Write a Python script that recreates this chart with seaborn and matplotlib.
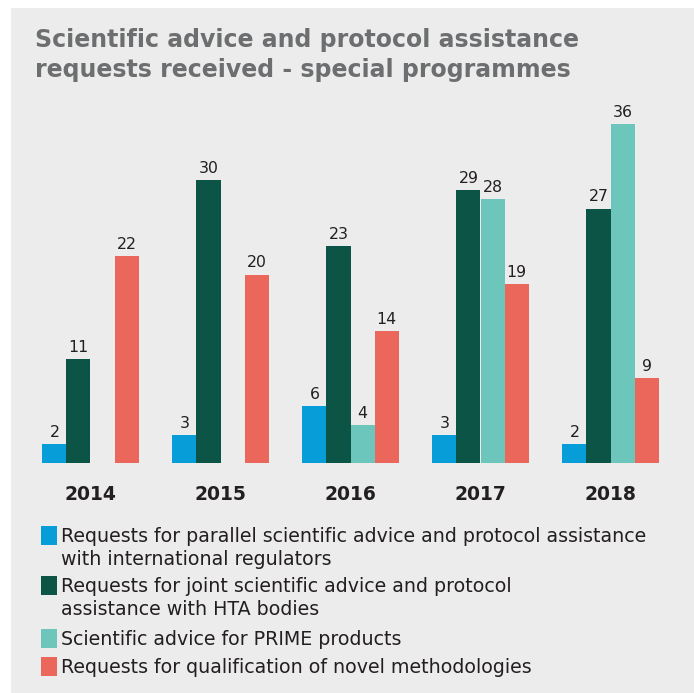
import matplotlib
matplotlib.use('Agg')
import matplotlib.pyplot as plt
from matplotlib.patches import Rectangle
import seaborn as sns
import pandas as pd

# data
years = ['2014', '2015', '2016', '2017', '2018']
series = [
    'Requests for parallel scientific advice and protocol assistance\nwith international regulators',
    'Requests for joint scientific advice and protocol\nassistance with HTA bodies',
    'Scientific advice for PRIME products',
    'Requests for qualification of novel methodologies',
]
parallel = [2, 3, 6, 3, 2]
joint_hta = [11, 30, 23, 29, 27]
prime = [0, 0, 4, 28, 36]
novel = [22, 20, 14, 19, 9]
colors = ['#079dd9', '#0b5446', '#6dc6bb', '#ec675b']

rows = []
for name, vals in zip(series, [parallel, joint_hta, prime, novel]):
    for yr, v in zip(years, vals):
        rows.append({'year': yr, 'series': name, 'value': v})
df = pd.DataFrame(rows)

sns.set_style("white")
plt.rcParams['font.family'] = ['DejaVu Sans']

W, H = 694, 693
fig = plt.figure(figsize=(W / 100, H / 100), dpi=100)
fig.patches.append(Rectangle((11 / W, 0), 1 - 11 / W, 1 - 8 / H,
                             transform=fig.transFigure, facecolor='#ececec',
                             edgecolor='none', zorder=-5))

ax = fig.add_axes([25.5 / W, (H - 463) / H, 650 / W, 358 / H])
ax.set_facecolor('none')
sns.barplot(data=df, x='year', y='value', hue='series', hue_order=series,
            order=years, palette=colors, saturation=1, width=0.74,
            linewidth=0, legend=False, ax=ax)

for cont in ax.containers:
    labels = [str(int(v)) if v > 0 else '' for v in cont.datavalues]
    ax.bar_label(cont, labels=labels, padding=3, fontsize=11.3, color='#231f20')

ax.set_xlim(-0.5, 4.5)
ax.set_ylim(0, 38)
ax.set_xlabel('')
ax.set_ylabel('')
ax.set_yticks([])
ax.tick_params(axis='x', length=0, pad=16)
for lbl in ax.get_xticklabels():
    lbl.set_fontweight('bold')
    lbl.set_fontsize(13.5)
    lbl.set_color('#231f20')
sns.despine(ax=ax, left=True, bottom=True)

# title
fig.text(35 / W, 1 - 28 / H,
         'Scientific advice and protocol assistance\nrequests received - special programmes',
         fontsize=17, fontweight='bold', color='#6d6e70', va='top', ha='left',
         linespacing=1.32)

# legend
legend_y = [526, 576, 629, 657]
for name, col, y in zip(series, colors, legend_y):
    fig.patches.append(Rectangle((41 / W, 1 - (y + 19) / H), 16 / W, 19 / H,
                                 transform=fig.transFigure, facecolor=col,
                                 edgecolor='none'))
    fig.text(61 / W, 1 - (y + 1) / H, name, fontsize=13.7, color='#231f20',
             va='top', ha='left', linespacing=1.25)

fig.savefig('out.png', dpi=100)
